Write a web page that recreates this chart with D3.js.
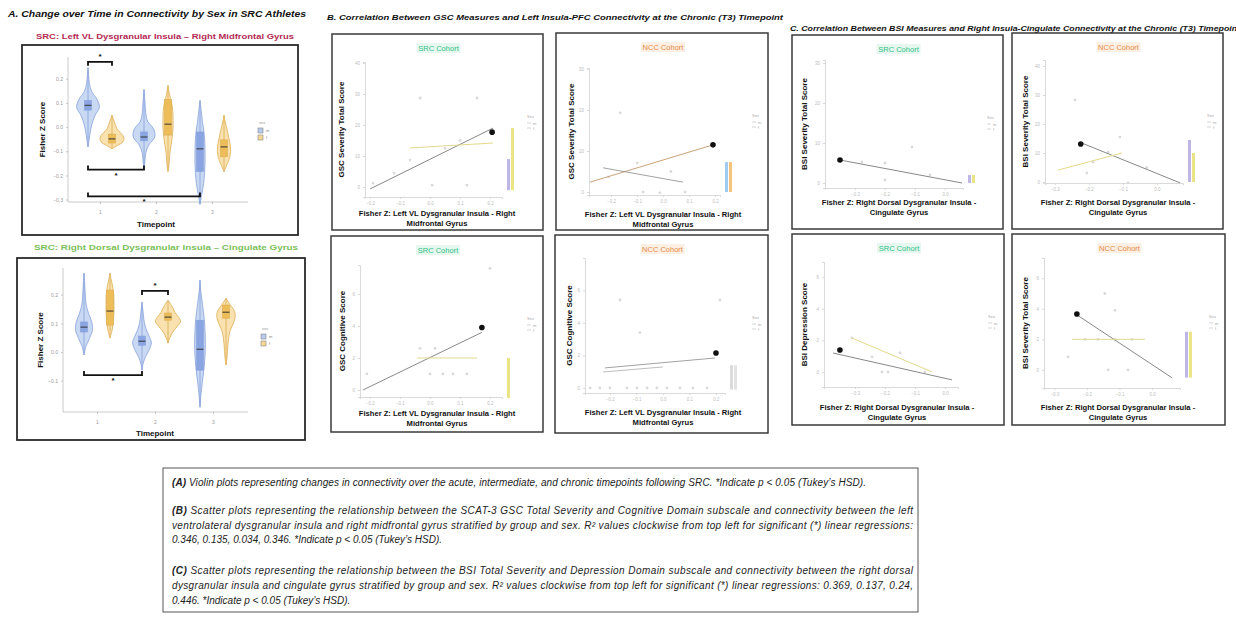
<!DOCTYPE html>
<html><head><meta charset="utf-8">
<script src="https://cdn.jsdelivr.net/npm/d3@7"></script>
<style>body{margin:0;background:#fff}svg{display:block}text{font-family:"Liberation Sans",Arial,sans-serif}</style>
</head><body><svg id="c" width="1236" height="618"></svg>
<script>
// ================= DATA =================
const timepoints = ["1", "2", "3"];
const sexes = ["m", "f"];

// Panel A (top): Left VL Dysgranular Insula – Right Midfrontal Gyrus
const a1YTicks = [0.2, 0.1, 0.0, -0.1, -0.2, -0.3];
// [timepoint, sex, min, q1, median, q3, max]
const a1Stats = [
  ["1", "m", -0.082, 0.07, 0.09, 0.11, 0.246],
  ["1", "f", -0.09, -0.066, -0.049, -0.029, 0.049],
  ["2", "m", -0.172, -0.057, -0.041, -0.02, 0.156],
  ["2", "f", -0.184, -0.033, 0.012, 0.115, 0.172],
  ["3", "m", -0.32, -0.184, -0.09, -0.02, 0.11],
  ["3", "f", -0.184, -0.123, -0.082, -0.053, 0.049]
];
// relative density (half-width) at evenly spaced levels from min to max
const a1Density = [
  [0.1, 0.2, 0.35, 0.6, 0.95, 0.75, 0.3, 0.12, 0.05],
  [0.45, 0.9, 1.0, 0.9, 0.65, 0.4, 0.3, 0.2, 0.1],
  [0.08, 0.15, 0.4, 0.9, 0.8, 0.3, 0.15, 0.1, 0.05],
  [0.1, 0.15, 0.25, 0.35, 0.42, 0.42, 0.4, 0.3, 0.12],
  [0.15, 0.3, 0.38, 0.42, 0.42, 0.4, 0.33, 0.2, 0.1],
  [0.2, 0.4, 0.52, 0.55, 0.5, 0.4, 0.3, 0.2, 0.08]
];
// significance brackets: [from tp, from sex, to tp, to sex, level, tick direction]
const a1Brackets = [
  ["1", "m", "1", "f", 0.27, "down"],
  ["1", "m", "2", "m", -0.176, "up"],
  ["1", "m", "3", "m", -0.287, "up"]
];

// Panel A (bottom): Right Dorsal Dysgranular Insula – Cingulate Gyrus
const a2YTicks = [0.2, 0.1, 0.0, -0.1];
const a2Stats = [
  ["1", "m", -0.01, 0.07, 0.087, 0.105, 0.275],
  ["1", "f", 0.049, 0.094, 0.143, 0.216, 0.275],
  ["2", "m", -0.063, 0.024, 0.038, 0.056, 0.174],
  ["2", "f", 0.031, 0.111, 0.122, 0.136, 0.181],
  ["3", "m", -0.192, -0.063, 0.01, 0.111, 0.251],
  ["3", "f", -0.045, 0.118, 0.139, 0.164, 0.188]
];
const a2Density = [
  [0.15, 0.45, 0.7, 0.65, 0.4, 0.2, 0.12, 0.08, 0.05],
  [0.15, 0.25, 0.3, 0.33, 0.33, 0.33, 0.3, 0.22, 0.1],
  [0.1, 0.3, 0.6, 0.78, 0.6, 0.35, 0.2, 0.12, 0.06],
  [0.12, 0.28, 0.5, 0.8, 1.05, 0.9, 0.6, 0.45, 0.25],
  [0.08, 0.2, 0.33, 0.42, 0.45, 0.42, 0.35, 0.22, 0.08],
  [0.08, 0.12, 0.16, 0.22, 0.32, 0.55, 0.75, 0.72, 0.35]
];
const a2Brackets = [
  ["2", "m", "2", "f", 0.213, "down"],
  ["1", "m", "2", "m", -0.08, "up"]
];

// Panel B: GSC measures vs Left Insula-PFC connectivity (T3)
const bXTicks = [-0.2, -0.1, 0.0, 0.1, 0.2];
const cXTicks = [-0.3, -0.2, -0.1, 0.0];

const bSevSrcYTicks = [0, 10, 20, 30, 40];
const bSevSrcPts = [[-0.033, 28.7], [0.157, 28.7], [-0.067, 8.7], [0.007, 0.6], [0.123, 0.6], [-0.19, 1.3], [0.05, 12.5], [-0.12, 4.5], [0.1, 15]];
const bSevSrcLines = [["m", -0.2, -0.6, 0.21, 19], ["f", -0.067, 12.6, 0.21, 14.2]];
const bSevSrcStar = [0.207, 17.7];
const bSevSrcMargins = [["m", -1, 9], ["f", -1, 19]];

const bSevNccYTicks = [0, 10, 20, 30];
const bSevNccPts = [[-0.165, 19.3], [-0.1, 7.1], [-0.077, 0], [-0.012, -0.2], [0.085, 0], [-0.21, 3.7], [0.03, 5]];
const bSevNccLines = [["f", -0.281, 2.4, 0.192, 11.5], ["m", -0.231, 5.9, 0.077, 2.4]];
const bSevNccStar = [0.192, 11.5];
const bSevNccMargins = [["m", 0, 7.3], ["f", 0, 7.3]];

const bCogSrcYTicks = [0, 2, 4, 6];
const bCogSrcPts = [[-0.21, 1.0], [0.0, 1.0], [0.043, 1.0], [0.077, 1.0], [0.123, 1.0], [-0.033, 2.6], [0.017, 2.6], [0.2, 7.6]];
const bCogSrcLines = [["m", -0.223, 0, 0.173, 3.6], ["f", -0.043, 2, 0.157, 2]];
const bCogSrcStar = [0.173, 3.9];
const bCogSrcMargins = [["f", -0.5, 2]];

const bCogNccYTicks = [0, 2, 4, 6];
const bCogNccPts = [[-0.275, 0], [-0.238, 0], [-0.2, 0], [-0.136, 0], [-0.098, 0], [-0.06, 0], [-0.023, 0], [0.015, 0], [0.064, 0], [0.113, 0], [0.166, 0], [-0.162, 5.4], [-0.087, 3.4], [0.215, 5.4]];
const bCogNccLines = [["m", -0.219, 1.23, 0.196, 1.84], ["f", -0.226, 0.98, 0.0, 1.29]];
const bCogNccStar = [0.2, 2.15];
const bCogNccMargins = [["m", -0.1, 1.4], ["f", -0.1, 1.4]];

// Panel C: BSI measures vs Right Insula-Cingulate connectivity (T3)
const cSevSrcYTicks = [0, 10, 20, 30];
const cSevSrcPts = [[-0.2, 5], [-0.277, 5.25], [-0.11, 9], [-0.2, 0.75], [-0.05, 2]];
const cSevSrcLines = [["m", -0.35, 5.75, 0.057, 0]];
const cSevSrcStar = [-0.35, 5.75];
const cSevSrcMargins = [["m", 0, 2], ["f", 0, 2]];

const cSevNccYTicks = [0, 10, 20, 30, 40];
const cSevNccPts = [[-0.241, 28.3], [-0.109, 15.5], [-0.188, 6.9], [-0.144, 10.3], [-0.085, -0.3], [-0.206, 3.1], [-0.03, 5]];
const cSevNccLines = [["m", -0.22, 13.4, 0.068, -0.3], ["f", -0.291, 4.1, -0.103, 10]];
const cSevNccStar = [-0.224, 13.1];
const cSevNccMargins = [["m", 0, 14.5], ["f", 0, 10]];

const cDepSrcYTicks = [0, 2, 4, 6];
const cDepSrcPts = [[-0.31, 2.15], [-0.243, 0.95], [-0.21, 0], [-0.19, 0], [-0.067, 0], [-0.15, 1.2]];
const cDepSrcLines = [["m", -0.373, 1.2, 0.023, -0.5], ["f", -0.31, 2.15, -0.043, 0]];
const cDepSrcStar = [-0.35, 1.39];
const cDepSrcMargins = [];

const cSevNcc2YTicks = [0, 2, 4, 6];
const cSevNcc2Pts = [[-0.145, 5.0], [-0.114, 3.9], [-0.206, 2], [-0.166, 2], [-0.114, 2], [-0.062, 2], [-0.258, 0.85], [-0.135, 0], [-0.074, 0]];
const cSevNcc2Lines = [["m", -0.231, 3.6, 0.062, -0.52], ["f", -0.246, 2, -0.022, 2]];
const cSevNcc2Star = [-0.231, 3.66];
const cSevNcc2Margins = [["m", -0.5, 2.5], ["f", -0.5, 2.5]];

// ================= DRAWING =================
const svg = d3.select("#c");
const sexColor = {m: {fill: "#b7cbef", stroke: "#86a2da", box: "#8aa5e2"},
                  f: {fill: "#f7d796", stroke: "#ddad52", box: "#ecbd58"}};

function text(x, y, s, o = {}) {
  const t = svg.append("text").attr("x", x).attr("y", y)
    .attr("font-size", o.size || 8).attr("fill", o.fill || "#111")
    .attr("text-anchor", o.anchor || "start")
    .attr("font-weight", o.weight || "normal").attr("font-style", o.style || "normal");
  if (o.len) t.attr("textLength", o.len).attr("lengthAdjust", o.adj || "spacingAndGlyphs");
  if (o.rot) t.attr("transform", `rotate(-90,${x},${y})`);
  t.text(s);
  return t;
}
function rect(x0, y0, x1, y1, w, c) {
  svg.append("rect").attr("x", x0).attr("y", y0).attr("width", x1 - x0).attr("height", y1 - y0)
    .attr("fill", "none").attr("stroke", c || "#333").attr("stroke-width", w || 1.5);
}

// ---------- Panel A ----------
text(8, 17, "A. Change over Time in Connectivity by Sex in SRC Athletes", {size: 9, weight: "bold", style: "italic", len: 298});

function violinPanel(cfg) {
  const {box, plot, yDom, yTicks, stats, dens, brackets, dodge, xRange, title, titleColor, titleY, ylabX, legendX, legendY} = cfg;
  rect(box[0], box[1], box[2], box[3], 1.8, "#2a2a2a");
  text((box[0] + box[2]) / 2 + 5, titleY, title, {size: 8, anchor: "middle", weight: "bold", fill: titleColor, len: cfg.titleLen});
  const y = d3.scaleLinear().domain(yDom).range([plot[3], plot[1]]);
  const x = d3.scalePoint().domain(timepoints).range(xRange);
  const g = svg.append("g");
  const ya = g.append("g").attr("transform", `translate(${plot[0]},0)`)
    .call(d3.axisLeft(y).tickValues(yTicks).tickSize(2).tickFormat(d3.format(".1f")));
  const xa = g.append("g").attr("transform", `translate(0,${plot[3]})`)
    .call(d3.axisBottom(x).tickSize(2).tickPadding(6));
  [ya, xa].forEach(a => {
    a.selectAll("path,line").attr("stroke", "#bcbcbc").attr("stroke-width", 0.8);
    a.selectAll("text").attr("fill", "#999").attr("font-size", 5).attr("font-family", "Liberation Sans, Arial");
  });
  ya.select(".domain").attr("d", `M0,${plot[1]}V${plot[3]}`);
  xa.select(".domain").attr("d", `M${plot[0]},0H${plot[2]}`);
  const cx = (tp, sex) => x(tp) + (sex === "m" ? -dodge : dodge);
  const maxHalf = 12;
  stats.forEach((s, i) => {
    const [tp, sex, mn, q1, med, q3, mx] = s;
    const d = dens[i], n = d.length;
    const pts = [{v: mn, w: 0}].concat(d.map((w, k) => ({v: mn + (mx - mn) * (k + 1) / (n + 1), w})), [{v: mx, w: 0}]);
    const c = cx(tp, sex), col = sexColor[sex];
    const area = d3.area().x0(p => c - p.w * maxHalf).x1(p => c + p.w * maxHalf).y(p => y(p.v)).curve(d3.curveCatmullRom);
    g.append("path").attr("d", area(pts)).attr("fill", col.fill).attr("fill-opacity", 0.75)
      .attr("stroke", col.stroke).attr("stroke-width", 0.8);
    g.append("line").attr("x1", c).attr("x2", c).attr("y1", y(mn)).attr("y2", y(mx))
      .attr("stroke", col.stroke).attr("stroke-width", 0.8);
    g.append("rect").attr("x", c - 3.5).attr("width", 7).attr("y", y(q3)).attr("height", Math.max(1, y(q1) - y(q3)))
      .attr("fill", col.box).attr("stroke", col.stroke).attr("stroke-width", 0.6);
    g.append("line").attr("x1", c - 3.5).attr("x2", c + 3.5).attr("y1", y(med)).attr("y2", y(med))
      .attr("stroke", "#333").attr("stroke-width", 1);
  });
  brackets.forEach(b => {
    const [tp1, s1, tp2, s2, lev, dir] = b;
    const x1 = cx(tp1, s1), x2 = cx(tp2, s2), yy = y(lev), t = dir === "down" ? 4 : -4;
    g.append("path").attr("d", `M${x1},${yy + t}V${yy}H${x2}V${yy + t}`)
      .attr("fill", "none").attr("stroke", "#111").attr("stroke-width", 1.8);
    text((x1 + x2) / 2, dir === "down" ? yy - 3 : yy + 8, "*", {size: 8, anchor: "middle", weight: "bold"});
  });
  text(ylabX, (plot[1] + plot[3]) / 2, "Fisher Z Score", {size: 8, weight: "bold", anchor: "middle", rot: true});
  text((xRange[0] + xRange[1]) / 2, cfg.timeY, "Timepoint", {size: 8, weight: "bold", anchor: "middle"});
  text(legendX, legendY, "sex", {size: 4, fill: "#999"});
  sexes.forEach((s, k) => {
    const yy = legendY + 4 + k * 7;
    g.append("rect").attr("x", legendX - 1).attr("y", yy).attr("width", 5).attr("height", 5)
      .attr("fill", sexColor[s].fill).attr("stroke", "#888").attr("stroke-width", 0.6);
    text(legendX + 7, yy + 4, s, {size: 4, fill: "#888"});
  });
}

violinPanel({box: [22, 45, 298, 235], plot: [68, 57, 248, 202], yDom: [-0.31, 0.29], yTicks: a1YTicks,
  stats: a1Stats, dens: a1Density, brackets: a1Brackets, dodge: 12, xRange: [100, 212],
  title: "SRC: Left VL Dysgranular Insula \u2013 Right Midfrontal Gyrus", titleColor: "#b42a55", titleY: 39, titleLen: 258,
  ylabX: 45, timeY: 227, legendX: 259, legendY: 124});
violinPanel({box: [17, 258, 305, 440], plot: [63, 268, 248, 412], yDom: [-0.2087, 0.293], yTicks: a2YTicks,
  stats: a2Stats, dens: a2Density, brackets: a2Brackets, dodge: 13, xRange: [97, 213],
  title: "SRC: Right Dorsal Dysgranular Insula \u2013 Cingulate Gyrus", titleColor: "#7cbf5c", titleY: 250, titleLen: 264,
  ylabX: 43, timeY: 436, legendX: 262, legendY: 330});

// ---------- Panels B & C ----------
text(327, 20, "B. Correlation Between GSC Measures and Left Insula-PFC Connectivity at the Chronic (T3) Timepoint", {size: 7.5, weight: "bold", style: "italic", len: 456});
text(790, 31, "C. Correlation Between BSI Measures and Right Insula-Cingulate Connectivity at the Chronic (T3) Timepoint", {size: 7.5, weight: "bold", style: "italic", len: 450});

const lineColor = {m: "#6a6a6a", f: "#e3d98a"};
const marginColor = {m: "#b4a9e2", f: "#e6df72"};

function scatterPanel(cfg) {
  const {box, plot, xDom, yDom, xTicks, yTicks, pts, lines, star, margins, cohort, ylab, xlab, mcol} = cfg;
  rect(box[0], box[1], box[2], box[3], 1.5, "#3a3a3a");
  const x = d3.scaleLinear().domain(xDom).range([plot[0], plot[2]]);
  const y = d3.scaleLinear().domain(yDom).range([plot[3], plot[1]]);
  const g = svg.append("g");
  const xa = g.append("g").attr("transform", `translate(0,${plot[3]})`).call(d3.axisBottom(x).tickValues(xTicks).tickSize(2).tickFormat(d3.format(".1f")));
  const ya = g.append("g").attr("transform", `translate(${plot[0]},0)`).call(d3.axisLeft(y).tickValues(yTicks).tickSize(2));
  [xa, ya].forEach(a => {
    a.selectAll("path,line").attr("stroke", "#d0d0d0").attr("stroke-width", 0.8);
    a.selectAll("text").attr("fill", "#bdbdbd").attr("font-size", 4.5).attr("font-family", "Liberation Sans, Arial");
  });
  const isSrc = cohort.startsWith("SRC");
  const cx = (box[0] + box[2]) / 2;
  const tw = 44;
  g.append("rect").attr("x", cx - tw / 2 + 1).attr("y", box[1] + 9).attr("width", tw).attr("height", 10)
    .attr("fill", isSrc ? "#e6f7ef" : "#fcefe3");
  text(cx + 1, box[1] + 17, cohort, {size: 7.5, anchor: "middle", fill: isSrc ? "#2fbf86" : "#e58b45"});
  pts.forEach(p => g.append("circle").attr("cx", x(p[0])).attr("cy", y(p[1])).attr("r", 1.4).attr("fill", "#d9d9d9"));
  lines.forEach(l => g.append("line").attr("x1", x(l[1])).attr("y1", y(l[2])).attr("x2", x(l[3])).attr("y2", y(l[4]))
    .attr("stroke", (mcol && mcol.line && mcol.line[l[0]]) || lineColor[l[0]]).attr("stroke-width", l[0] === "m" ? 0.8 : 1));
  margins.forEach((m, k) => g.append("rect").attr("x", plot[2] + 5 + k * 4).attr("width", 3)
    .attr("y", y(m[2])).attr("height", y(m[1]) - y(m[2]))
    .attr("fill", (mcol && mcol[m[0]]) || marginColor[m[0]]).attr("opacity", 0.85));
  g.append("circle").attr("cx", x(star[0])).attr("cy", y(star[1])).attr("r", 2.8).attr("fill", "#111");
  const lx = box[2] - 16, ly = box[1] + 84;
  text(lx, ly, "Sex", {size: 4, fill: "#aaa"});
  sexes.forEach((s, k) => {
    g.append("line").attr("x1", lx).attr("x2", lx + 4).attr("y1", ly + 5 + k * 5).attr("y2", ly + 5 + k * 5).attr("stroke", "#ccc").attr("stroke-width", 0.8);
    text(lx + 6, ly + 6.5 + k * 5, s, {size: 4, fill: "#aaa"});
  });
  text(cfg.ylabX, (plot[1] + plot[3]) / 2, ylab, {size: 8, weight: "bold", anchor: "middle", rot: true});
  text(cfg.xlabCx, cfg.xlabY, xlab[0], {size: 7.6, weight: "bold", anchor: "middle"});
  text(cfg.xlabCx, cfg.xlabY + 10, xlab[1], {size: 7.6, weight: "bold", anchor: "middle"});
}

const bXlab = ["Fisher Z: Left VL Dysgranular Insula - Right", "Midfrontal Gyrus"];
const cXlab = ["Fisher Z: Right Dorsal Dysgranular Insula -", "Cingulate Gyrus"];
const nccCol = {m: "#8ec3ec", f: "#f1b766", line: {m: "#8a8a8a", f: "#c9a27a"}};

scatterPanel({box: [332, 34, 543, 230], plot: [365, 62, 502, 197], xDom: [-0.217, 0.24], yDom: [-3.2, 40.3],
  xTicks: bXTicks, yTicks: bSevSrcYTicks, pts: bSevSrcPts, lines: bSevSrcLines, star: bSevSrcStar, margins: bSevSrcMargins,
  cohort: "SRC Cohort", ylab: "GSC Severity Total Score", xlab: bXlab, ylabX: 344, xlabCx: 437, xlabY: 216});
scatterPanel({box: [556, 33, 768, 230], plot: [589, 68, 720, 195], xDom: [-0.285, 0.219], yDom: [-0.73, 30.24],
  xTicks: bXTicks, yTicks: bSevNccYTicks, pts: bSevNccPts, lines: bSevNccLines, star: bSevNccStar, margins: bSevNccMargins,
  cohort: "NCC Cohort", ylab: "GSC Severity Total Score", xlab: bXlab, ylabX: 574, xlabCx: 663, xlabY: 217, mcol: nccCol});
scatterPanel({box: [331, 236, 543, 432], plot: [360, 265, 502, 397], xDom: [-0.233, 0.24], yDom: [-0.44, 7.81],
  xTicks: bXTicks, yTicks: bCogSrcYTicks, pts: bCogSrcPts, lines: bCogSrcLines, star: bCogSrcStar, margins: bCogSrcMargins,
  cohort: "SRC Cohort", ylab: "GSC Cognitive Score", xlab: bXlab, ylabX: 345, xlabCx: 437, xlabY: 416});
scatterPanel({box: [555, 235, 768, 433], plot: [585, 258, 725, 393], xDom: [-0.294, 0.234], yDom: [-0.31, 7.98],
  xTicks: bXTicks, yTicks: bCogNccYTicks, pts: bCogNccPts, lines: bCogNccLines, star: bCogNccStar, margins: bCogNccMargins,
  cohort: "NCC Cohort", ylab: "GSC Cognitive Score", xlab: bXlab, ylabX: 572, xlabCx: 663, xlabY: 415, mcol: {m: "#d5d5d5", f: "#dedede", line: {m: "#8a8a8a", f: "#bdbdbd"}}});

scatterPanel({box: [792, 35, 1003, 229], plot: [825, 60, 963, 188], xDom: [-0.4, 0.06], yDom: [-1.25, 30.75],
  xTicks: cXTicks, yTicks: cSevSrcYTicks, pts: cSevSrcPts, lines: cSevSrcLines, star: cSevSrcStar, margins: cSevSrcMargins,
  cohort: "SRC Cohort", ylab: "BSI Severity Total Score", xlab: cXlab, ylabX: 807, xlabCx: 899, xlabY: 205});
scatterPanel({box: [1012, 33, 1223, 229], plot: [1045, 60, 1183, 183], xDom: [-0.329, 0.0765], yDom: [-0.34, 42.07],
  xTicks: cXTicks, yTicks: cSevNccYTicks, pts: cSevNccPts, lines: cSevNccLines, star: cSevNccStar, margins: cSevNccMargins,
  cohort: "NCC Cohort", ylab: "BSI Severity Total Score", xlab: cXlab, ylabX: 1028, xlabCx: 1118, xlabY: 205});
scatterPanel({box: [792, 234, 1004, 425], plot: [824, 262, 958, 387], xDom: [-0.403, 0.043], yDom: [-0.95, 6.96],
  xTicks: cXTicks, yTicks: cDepSrcYTicks, pts: cDepSrcPts, lines: cDepSrcLines, star: cDepSrcStar, margins: cDepSrcMargins,
  cohort: "SRC Cohort", ylab: "BSI Depression Score", xlab: cXlab, ylabX: 807, xlabCx: 897, xlabY: 410});
scatterPanel({box: [1012, 234, 1225, 425], plot: [1044, 258, 1180, 388], xDom: [-0.332, 0.086], yDom: [-1.18, 7.32],
  xTicks: cXTicks, yTicks: cSevNcc2YTicks, pts: cSevNcc2Pts, lines: cSevNcc2Lines, star: cSevNcc2Star, margins: cSevNcc2Margins,
  cohort: "NCC Cohort", ylab: "BSI Severity Total Score", xlab: cXlab, ylabX: 1028, xlabCx: 1118, xlabY: 410});

// ---------- Caption ----------
rect(163, 468, 918, 612, 1, "#555");
const capLines = [
  {y: 486, b: "(A)", t: " Violin plots representing changes in connectivity over the acute, intermediate, and chronic timepoints following SRC. *Indicate p < 0.05 (Tukey\u2019s HSD).", len: 694},
  {y: 514, b: "(B)", t: " Scatter plots representing the relationship between the SCAT-3 GSC Total Severity and Cognitive Domain subscale and connectivity between the left", len: 741},
  {y: 529, b: "", t: "ventrolateral dysgranular insula and right midfrontal gyrus stratified by group and sex. R\u00b2 values clockwise from top left for significant (*) linear regressions:", len: 741},
  {y: 543, b: "", t: "0.346, 0.135, 0.034, 0.346. *Indicate p < 0.05 (Tukey\u2019s HSD).", len: 0},
  {y: 574, b: "(C)", t: " Scatter plots representing the relationship between the BSI Total Severity and Depression Domain subscale and connectivity between the right dorsal", len: 741},
  {y: 589, b: "", t: "dysgranular insula and cingulate gyrus stratified by group and sex. R\u00b2 values clockwise from top left for significant (*) linear regressions: 0.369, 0.137, 0.24,", len: 741},
  {y: 604, b: "", t: "0.446. *Indicate p < 0.05 (Tukey\u2019s HSD).", len: 0}
];
capLines.forEach(l => {
  const t = svg.append("text").attr("x", 172).attr("y", l.y).attr("font-size", 10).attr("font-style", "italic")
    .attr("fill", "#222");
  if (l.len) t.attr("textLength", l.len).attr("lengthAdjust", "spacing");
  if (l.b) t.append("tspan").attr("font-weight", "bold").text(l.b);
  t.append("tspan").text(l.t);
});
</script></body></html>
